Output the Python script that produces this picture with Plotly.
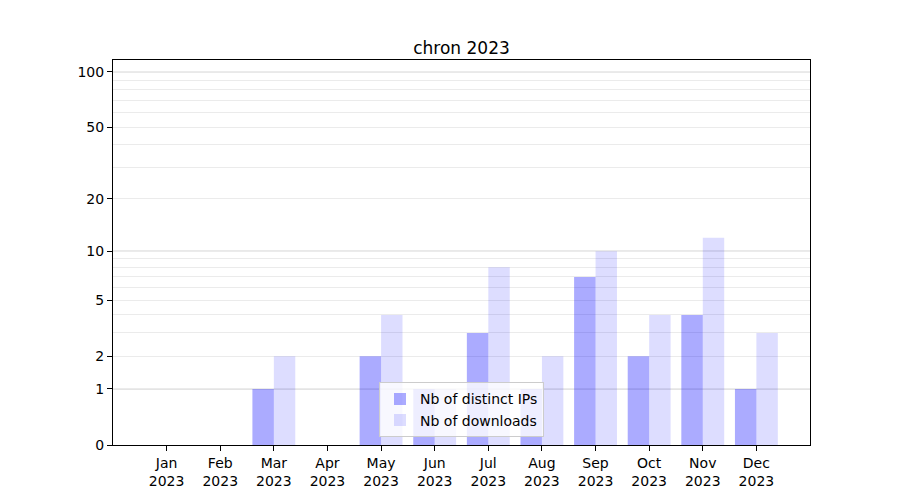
import numpy as np
import plotly.graph_objects as go

months = ["Jan", "Feb", "Mar", "Apr", "May", "Jun", "Jul", "Aug", "Sep", "Oct", "Nov", "Dec"]
year = "2023"
distinct_ips = [0, 0, 1, 0, 2, 1, 3, 1, 7, 2, 4, 1]
downloads = [0, 0, 2, 0, 4, 1, 8, 2, 10, 4, 12, 3]
ytick_labels = [0, 1, 2, 5, 10, 20, 50, 100]
minor_vals = [3, 4, 6, 7, 8, 9, 30, 40, 60, 70, 80, 90]
major_grid_vals = [1, 10, 100]
y_top = 116


def tr(v):
    return np.log10(1 + np.asarray(v, dtype=float))


x = list(range(len(months)))
ticktext = [f"{m}<br>{year}" for m in months]

fig = go.Figure()
fig.add_trace(go.Bar(x=x, y=tr(distinct_ips), name="Nb of distinct IPs",
                     marker=dict(color="rgba(0,0,255,0.33)", line=dict(width=0))))
fig.add_trace(go.Bar(x=x, y=tr(downloads), name="Nb of downloads",
                     marker=dict(color="rgba(0,0,255,0.135)", line=dict(width=0))))

shapes = []
for v in major_grid_vals:
    shapes.append(dict(type="line", xref="paper", x0=0, x1=1, yref="y", y0=float(tr(v)), y1=float(tr(v)),
                       line=dict(color="#c4c4c4", width=1), layer="below"))

fig.update_layout(
    width=900, height=500,
    margin=dict(l=105, r=98, t=52, b=63),
    paper_bgcolor="white", plot_bgcolor="white",
    font=dict(family="DejaVu Sans", size=14, color="black"),
    title=dict(text="chron 2023", x=0.5, xanchor="center", xref="paper",
               y=1, yref="paper", yanchor="bottom", pad=dict(b=6),
               font=dict(size=17, family="DejaVu Sans", color="black")),
    barmode="group", bargap=0.2, bargroupgap=0,
    showlegend=True,
    legend=dict(x=0.5, xanchor="center", y=0.02, yanchor="bottom",
                bgcolor="rgba(255,255,255,0.8)", bordercolor="#cccccc", borderwidth=1,
                font=dict(size=14), tracegroupgap=0),
    shapes=shapes,
)
fig.update_xaxes(range=[-1, 12], tickmode="array", tickvals=x, ticktext=ticktext,
                 showline=True, linecolor="black", linewidth=1, mirror=True,
                 ticks="outside", ticklen=5, tickcolor="black", showgrid=False, zeroline=False)
fig.update_yaxes(range=[0, float(tr(y_top))], tickmode="array", tickvals=tr(ytick_labels),
                 ticktext=[str(v) for v in ytick_labels],
                 showline=True, linecolor="black", linewidth=1, mirror=True,
                 ticks="outside", ticklen=5, tickcolor="black",
                 showgrid=True, gridcolor="#ebebeb", gridwidth=1, zeroline=False,
                 minor=dict(tickmode="array", tickvals=tr(minor_vals), showgrid=True,
                            gridcolor="#ebebeb", gridwidth=1, ticks=""))

fig.write_html("out.html")
